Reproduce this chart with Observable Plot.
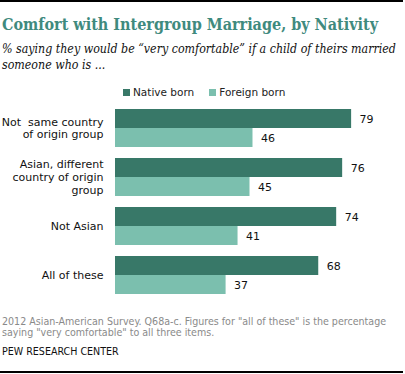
<!DOCTYPE html>
<html><head><meta charset="utf-8">
<script src="https://cdn.jsdelivr.net/npm/d3@7"></script>
<script src="https://cdn.jsdelivr.net/npm/@observablehq/plot@0.6"></script>
<style>
body{margin:0;background:#fff;}
#wrap{position:relative;width:405px;height:374px;overflow:hidden;background:#fff;}
.abs{position:absolute;white-space:nowrap;}
#title{left:2px;top:15px;font:bold 16px "DejaVu Serif Condensed";color:#3f8a7e;}
#sub{left:2px;top:40.5px;font:italic 12.3px "DejaVu Serif Condensed";color:#111;line-height:16px;}
#legend{left:123px;top:86px;font:10.5px "DejaVu Sans";color:#222;}
#legend span.sw{display:inline-block;width:7px;height:7px;margin-right:3px;vertical-align:0px;}
#foot{left:2px;top:316px;font:10.6px "DejaVu Sans Condensed";color:#8a8a8a;line-height:11px;}
#pew{left:2px;top:345px;font:10.6px "DejaVu Sans Condensed";color:#111;}
#topline{left:0;top:0;width:403px;height:2px;background:#000;}
#botline{left:0;top:371px;width:403px;height:2px;background:#000;}
#chart{left:0;top:100px;}
</style>
</head><body>
<div id="wrap">
<div class="abs" id="topline"></div>
<div class="abs" id="title">Comfort with Intergroup Marriage, by Nativity</div>
<div class="abs" id="sub">% saying they would be “very comfortable” if a child of theirs married<br>someone who is ...</div>
<div class="abs" id="legend"></div>
<div class="abs" id="chart"></div>
<div class="abs" id="foot">2012 Asian-American Survey. Q68a-c. Figures for "all of these" is the percentage<br>saying "very comfortable" to all three items.</div>
<div class="abs" id="pew">PEW RESEARCH CENTER</div>
<div class="abs" id="botline"></div>
</div>
<script>
const categories = ["Not  same country\nof origin group", "Asian, different\ncountry of origin\ngroup", "Not Asian", "All of these"];
const seriesNames = ["Native born", "Foreign born"];
const nativeBorn = [79, 76, 74, 68];
const foreignBorn = [46, 45, 41, 37];
const colors = ["#387868", "#7bbfae"];

const data = [];
categories.forEach((c, i) => {
  data.push({category: c, series: seriesNames[0], value: nativeBorn[i]});
  data.push({category: c, series: seriesNames[1], value: foreignBorn[i]});
});

const leg = document.getElementById("legend");
seriesNames.forEach((s, i) => {
  const item = document.createElement("span");
  item.style.marginRight = i === 0 ? "15px" : "0";
  item.innerHTML = `<span class="sw" style="background:${colors[i]}"></span>${s}`;
  leg.appendChild(item);
});

const chart = Plot.plot({
  width: 405,
  height: 200,
  marginLeft: 115,
  marginRight: 21,
  marginTop: 7,
  marginBottom: 5.3,
  x: {domain: [0, 90], axis: null},
  y: {domain: seriesNames, padding: 0, axis: null},
  fy: {domain: categories, padding: 0.195, axis: null},
  color: {domain: seriesNames, range: colors},
  style: {fontFamily: "DejaVu Sans", fontSize: "11px", color: "#111"},
  marks: [
    Plot.barX(data, {fy: "category", y: "series", x: "value", fill: "series"}),
    Plot.text(data, {fy: "category", y: "series", x: "value", text: d => String(d.value), dx: 8, textAnchor: "start", fontSize: 11, fill: "#111"}),
    Plot.text(categories, {fy: d => d, x: 0, text: d => d, dx: -12, textAnchor: "end", lineHeight: 1.15, fontSize: 11, fill: "#111"})
  ]
});
document.getElementById("chart").appendChild(chart);
</script>
</body></html>
